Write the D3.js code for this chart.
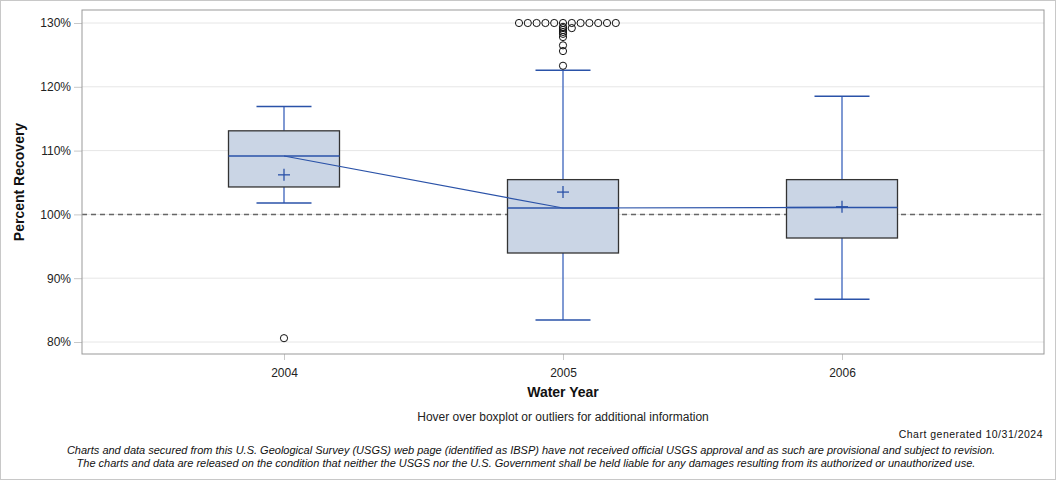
<!DOCTYPE html>
<html><head><meta charset="utf-8">
<script src="https://cdn.jsdelivr.net/npm/d3@7"></script>
<style>body{margin:0;background:#fff;}svg{display:block;font-family:"Liberation Sans",Arial,sans-serif;}</style>
</head><body><svg id="c" width="1056" height="480"></svg>
<script>
const years = ["2004","2005","2006"];
const q1 = [104.3, 93.95, 96.3];
const median = [109.15, 101.0, 101.1];
const q3 = [113.1, 105.45, 105.45];
const whiskerLow = [101.8, 83.45, 86.7];
const whiskerHigh = [116.9, 122.6, 118.5];
const means = [106.2, 103.5, 101.2];
const outliers2004 = [80.6];
const outliers2005 = [130,130,130,130,130,130,130,130,130,130,130,130,129.4,129.2,129.2,128.9,128.6,128.3,127.8,126.5,125.6,123.3];
const outliers2006 = [];
const yTicks = [80,90,100,110,120,130];
const refValue = 100;

const svg = d3.select("#c");
const L=82, R=1044, T=10, B=354;
const x = d3.scalePoint().domain(years).range([L,R]).padding(0.724);
const y = d3.scaleLinear().domain([80,130]).range([342,23]);

svg.append("rect").attr("x",0.5).attr("y",0.5).attr("width",1055).attr("height",479).attr("fill","#fff").attr("stroke","#c8c8c8");

// gridlines
svg.append("g").selectAll("line").data(yTicks).join("line")
  .attr("x1",L).attr("x2",R).attr("y1",d=>y(d)).attr("y2",d=>y(d))
  .attr("stroke","#e6e6e6").attr("stroke-width",1);

// axes
const yAxis = d3.axisLeft(y).tickValues(yTicks).tickFormat(d=>d+"%").tickSize(8).tickPadding(3);
const gy = svg.append("g").attr("transform",`translate(${L},0)`).call(yAxis);
gy.select(".domain").remove();
gy.selectAll(".tick line").attr("stroke","#c8c8c8");
gy.selectAll(".tick text").attr("font-size",12).attr("fill","#222").attr("font-family","Liberation Sans, Arial, sans-serif");

const xAxis = d3.axisBottom(x).tickSize(6).tickPadding(8);
const gx = svg.append("g").attr("transform",`translate(0,${B})`).call(xAxis);
gx.select(".domain").remove();
gx.selectAll(".tick line").attr("stroke","#c8c8c8");
gx.selectAll(".tick text").attr("font-size",12).attr("fill","#222").attr("font-family","Liberation Sans, Arial, sans-serif");

// reference line
svg.append("line").attr("x1",L).attr("x2",R).attr("y1",y(refValue)).attr("y2",y(refValue))
  .attr("stroke","#666").attr("stroke-width",1.5).attr("stroke-dasharray","5,4");

const boxW = 111, capW = 55;
const blue = "#2a52a8", wblue = "#5577c4";
const data = years.map((yr,i)=>({yr,q1:q1[i],med:median[i],q3:q3[i],lo:whiskerLow[i],hi:whiskerHigh[i],mean:means[i]}));

const g = svg.append("g");
data.forEach(d=>{
  const cx = x(d.yr);
  g.append("line").attr("x1",cx).attr("x2",cx).attr("y1",y(d.q3)).attr("y2",y(d.hi)).attr("stroke",wblue).attr("stroke-width",1.5);
  g.append("line").attr("x1",cx).attr("x2",cx).attr("y1",y(d.q1)).attr("y2",y(d.lo)).attr("stroke",wblue).attr("stroke-width",1.5);
  g.append("line").attr("x1",cx-capW/2).attr("x2",cx+capW/2).attr("y1",y(d.hi)).attr("y2",y(d.hi)).attr("stroke",blue).attr("stroke-width",1.5);
  g.append("line").attr("x1",cx-capW/2).attr("x2",cx+capW/2).attr("y1",y(d.lo)).attr("y2",y(d.lo)).attr("stroke",blue).attr("stroke-width",1.5);
  g.append("rect").attr("x",cx-boxW/2).attr("y",y(d.q3)).attr("width",boxW).attr("height",y(d.q1)-y(d.q3))
    .attr("fill","#cad5e5").attr("stroke","#333").attr("stroke-width",1.3);
  g.append("line").attr("x1",cx-boxW/2).attr("x2",cx+boxW/2).attr("y1",y(d.med)).attr("y2",y(d.med)).attr("stroke",blue).attr("stroke-width",1.5);
  const my = y(d.mean);
  g.append("line").attr("x1",cx-6).attr("x2",cx+6).attr("y1",my).attr("y2",my).attr("stroke",blue).attr("stroke-width",1.3);
  g.append("line").attr("x1",cx).attr("x2",cx).attr("y1",my-6).attr("y2",my+6).attr("stroke",blue).attr("stroke-width",1.3);
});

// median connecting line
svg.append("path").datum(data).attr("fill","none").attr("stroke",blue).attr("stroke-width",1.2)
  .attr("d",d3.line().x(d=>x(d.yr)).y(d=>y(d.med)));

// outliers
const outl = [outliers2004,outliers2005,outliers2006];
const og = svg.append("g");
outl.forEach((arr,i)=>{
  const cx = x(years[i]);
  const groups = d3.group(arr, v=>v);
  groups.forEach((vals,v)=>{
    vals.forEach((_,k)=>{
      const off = k===0?0:(k%2===1?(k+1)/2:-k/2);
      og.append("circle").attr("cx",cx+off*8.8).attr("cy",y(v)).attr("r",3.6)
        .attr("fill","none").attr("stroke","#111").attr("stroke-width",1);
    });
  });
});

// frame
svg.append("rect").attr("x",L).attr("y",T).attr("width",R-L).attr("height",B-T).attr("fill","none").attr("stroke","#999");

// titles
svg.append("text").attr("transform",`translate(24,${(T+B)/2}) rotate(-90)`).attr("text-anchor","middle")
  .attr("font-size",14).attr("font-weight","bold").attr("fill","#111").text("Percent Recovery");
svg.append("text").attr("x",(L+R)/2).attr("y",397).attr("text-anchor","middle")
  .attr("font-size",14).attr("font-weight","bold").attr("fill","#111").text("Water Year");
svg.append("text").attr("x",(L+R)/2).attr("y",421).attr("text-anchor","middle")
  .attr("font-size",12).attr("fill","#222").text("Hover over boxplot or outliers for additional information");
svg.append("text").attr("x",1043).attr("y",438).attr("text-anchor","end")
  .attr("font-size",10.5).attr("fill","#111").attr("letter-spacing","0.5").text("Chart generated 10/31/2024");
svg.append("text").attr("x",531).attr("y",454).attr("text-anchor","middle")
  .attr("font-size",11).attr("font-style","italic").attr("fill","#111")
  .text("Charts and data secured from this U.S. Geological Survey (USGS) web page (identified as IBSP) have not received official USGS approval and as such are provisional and subject to revision.");
svg.append("text").attr("x",526).attr("y",467).attr("text-anchor","middle")
  .attr("font-size",11).attr("font-style","italic").attr("fill","#111")
  .text("The charts and data are released on the condition that neither the USGS nor the U.S. Government shall be held liable for any damages resulting from its authorized or unauthorized use.");
</script></body></html>
